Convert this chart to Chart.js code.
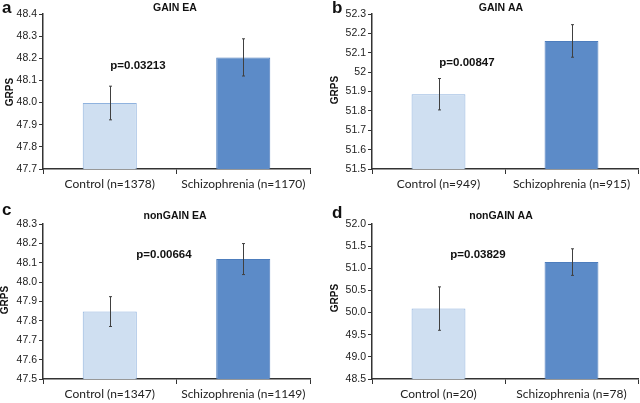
<!DOCTYPE html>
<html>
<head>
<meta charset="utf-8">
<script src="https://cdn.jsdelivr.net/npm/chart.js@4.4.1/dist/chart.umd.min.js"></script>
<style>
  html, body { margin: 0; padding: 0; background: #fff; }
  #wrap { position: relative; width: 640px; height: 403px; overflow: hidden; }
  .panel { position: absolute; }
</style>
</head>
<body>
<div id="wrap">
  <div class="panel" style="left:0;top:0;width:320px;height:200px"><canvas id="chartA"></canvas></div>
  <div class="panel" style="left:320px;top:0;width:320px;height:200px"><canvas id="chartB"></canvas></div>
  <div class="panel" style="left:0;top:200px;width:320px;height:203px"><canvas id="chartC"></canvas></div>
  <div class="panel" style="left:320px;top:200px;width:320px;height:203px"><canvas id="chartD"></canvas></div>
</div>
<script>
// du lieu doc tu hinh
var panelLetters = ['a', 'b', 'c', 'd'];
var panelTitles = ['GAIN EA', 'GAIN AA', 'nonGAIN EA', 'nonGAIN AA'];
var categoriesA = ['Control (n=1378)', 'Schizophrenia (n=1170)'];
var categoriesB = ['Control (n=949)', 'Schizophrenia (n=915)'];
var categoriesC = ['Control (n=1347)', 'Schizophrenia (n=1149)'];
var categoriesD = ['Control (n=20)', 'Schizophrenia (n=78)'];
var meansA = [47.998, 48.204];
var meansB = [51.886, 52.161];
var meansC = [47.848, 48.119];
var meansD = [50.09, 51.14];
var errorsA = [0.076, 0.084];
var errorsB = [0.081, 0.084];
var errorsC = [0.077, 0.080];
var errorsD = [0.49, 0.30];
var pValues = ['p=0.03213', 'p=0.00847', 'p=0.00664', 'p=0.03829'];
var ticksA = ['47.7', '47.8', '47.9', '48.0', '48.1', '48.2', '48.3', '48.4'];
var ticksB = ['51.5', '51.6', '51.7', '51.8', '51.9', '52', '52.1', '52.2', '52.3'];
var ticksC = ['47.5', '47.6', '47.7', '47.8', '47.9', '48.0', '48.1', '48.2', '48.3'];
var ticksD = ['48.5', '49.0', '49.5', '50.0', '50.5', '51.0', '51.5', '52.0'];

var barFill = ['#cfdff1', '#5c8bc8'];
var barEdge = ['#8fb2de', '#4d7dbd'];
var axisColor = '#333333';

// vi tri cua tung o (layout)
var panels = [
    { id: 'chartA', cats: categoriesA, means: meansA, errs: errorsA, ticks: ticksA, min: 47.7, max: 48.4, step: 0.1,
      area: { left: 43, right: 310, top: 14, bottom: 169 }, h: 200,
      letter: [2, 8], title: [175, 8], grps: [10, 92], p: [138, 66] },
    { id: 'chartB', cats: categoriesB, means: meansB, errs: errorsB, ticks: ticksB, min: 51.5, max: 52.3, step: 0.1,
      area: { left: 52, right: 318, top: 14, bottom: 169 }, h: 200,
      letter: [12, 8], title: [181, 8], grps: [15, 90], p: [147, 63] },
    { id: 'chartC', cats: categoriesC, means: meansC, errs: errorsC, ticks: ticksC, min: 47.5, max: 48.3, step: 0.1,
      area: { left: 43, right: 310, top: 24, bottom: 179 }, h: 203,
      letter: [2, 10], title: [175, 16], grps: [5, 100], p: [164, 55] },
    { id: 'chartD', cats: categoriesD, means: meansD, errs: errorsD, ticks: ticksD, min: 48.5, max: 52.0, step: 0.5,
      area: { left: 52, right: 318, top: 24, bottom: 179 }, h: 203,
      letter: [12, 13], title: [181, 16], grps: [15, 98], p: [158, 55] }
];

// plugin ve thanh sai so va chu
var decorPlugin = {
    id: 'decor',
    afterDatasetsDraw: function (chart, args, opts) {
        var ctx = chart.ctx;
        var y = chart.scales.y;
        var meta = chart.getDatasetMeta(0);
        ctx.save();
        ctx.strokeStyle = '#404040';
        ctx.lineWidth = 1;
        meta.data.forEach(function (bar, i) {
            var m = opts.means[i], e = opts.errs[i];
            var x = Math.round(bar.x) + 0.5;
            var yt = y.getPixelForValue(m + e), yb = y.getPixelForValue(m - e);
            ctx.beginPath();
            ctx.moveTo(x, yt); ctx.lineTo(x, yb);
            ctx.moveTo(x - 1.5, yt); ctx.lineTo(x + 1.5, yt);
            ctx.moveTo(x - 1.5, yb); ctx.lineTo(x + 1.5, yb);
            ctx.stroke();
        });
        ctx.fillStyle = '#111';
        ctx.textAlign = 'center';
        ctx.textBaseline = 'middle';
        ctx.font = 'bold 11.5px "Liberation Sans", Arial, sans-serif';
        ctx.fillText(opts.pText, opts.p[0], opts.p[1]);
        ctx.font = 'bold 10.5px "Liberation Sans", Arial, sans-serif';
        ctx.fillText(opts.title, opts.titlePos[0], opts.titlePos[1]);
        ctx.textAlign = 'left';
        ctx.font = 'bold 17px "Liberation Sans", Arial, sans-serif';
        ctx.fillText(opts.letter, opts.letterPos[0], opts.letterPos[1]);
        ctx.save();
        ctx.translate(opts.grps[0], opts.grps[1]);
        ctx.rotate(-Math.PI / 2);
        ctx.textAlign = 'center';
        ctx.font = 'bold 10px "Liberation Sans", Arial, sans-serif';
        ctx.fillText('GRPS', 0, 0);
        ctx.restore();
        ctx.restore();
    }
};

Chart.defaults.animation = false;

panels.forEach(function (p, k) {
    var ctx = document.getElementById(p.id).getContext('2d');
    new Chart(ctx, {
        type: 'bar',
        data: {
            labels: p.cats,
            datasets: [{
                data: p.means,
                backgroundColor: barFill,
                borderColor: barEdge,
                borderWidth: 1,
                borderSkipped: 'bottom',
                categoryPercentage: 1,
                barPercentage: 0.405
            }]
        },
        options: {
            responsive: true,
            maintainAspectRatio: false,
            layout: {
                padding: { left: 0, right: 320 - p.area.right, top: p.area.top, bottom: 0 }
            },
            scales: {
                x: {
                    grid: { display: true, drawOnChartArea: false, tickLength: 5, color: axisColor, offset: true },
                    border: { display: true, color: axisColor, width: 1.5 },
                    ticks: { color: '#222', padding: 3, font: { family: 'Lato', size: 12 } },
                    afterFit: function (s) { s.height = p.h - p.area.bottom; }
                },
                y: {
                    min: p.min,
                    max: p.max,
                    ticks: {
                        stepSize: p.step,
                        color: '#222',
                        padding: 2,
                        font: { family: 'Liberation Sans', size: 10.5 },
                        callback: function (v, i) { return p.ticks[i]; }
                    },
                    grid: { display: true, drawOnChartArea: false, tickLength: 4, color: axisColor },
                    border: { display: true, color: axisColor, width: 1.5 },
                    afterFit: function (s) { s.width = p.area.left; }
                }
            },
            plugins: {
                legend: { display: false },
                tooltip: { enabled: false },
                decor: {
                    means: p.means, errs: p.errs, pText: pValues[k], p: p.p,
                    title: panelTitles[k], titlePos: p.title,
                    letter: panelLetters[k], letterPos: p.letter, grps: p.grps
                }
            }
        },
        plugins: [decorPlugin]
    });
});
</script>
</body>
</html>
